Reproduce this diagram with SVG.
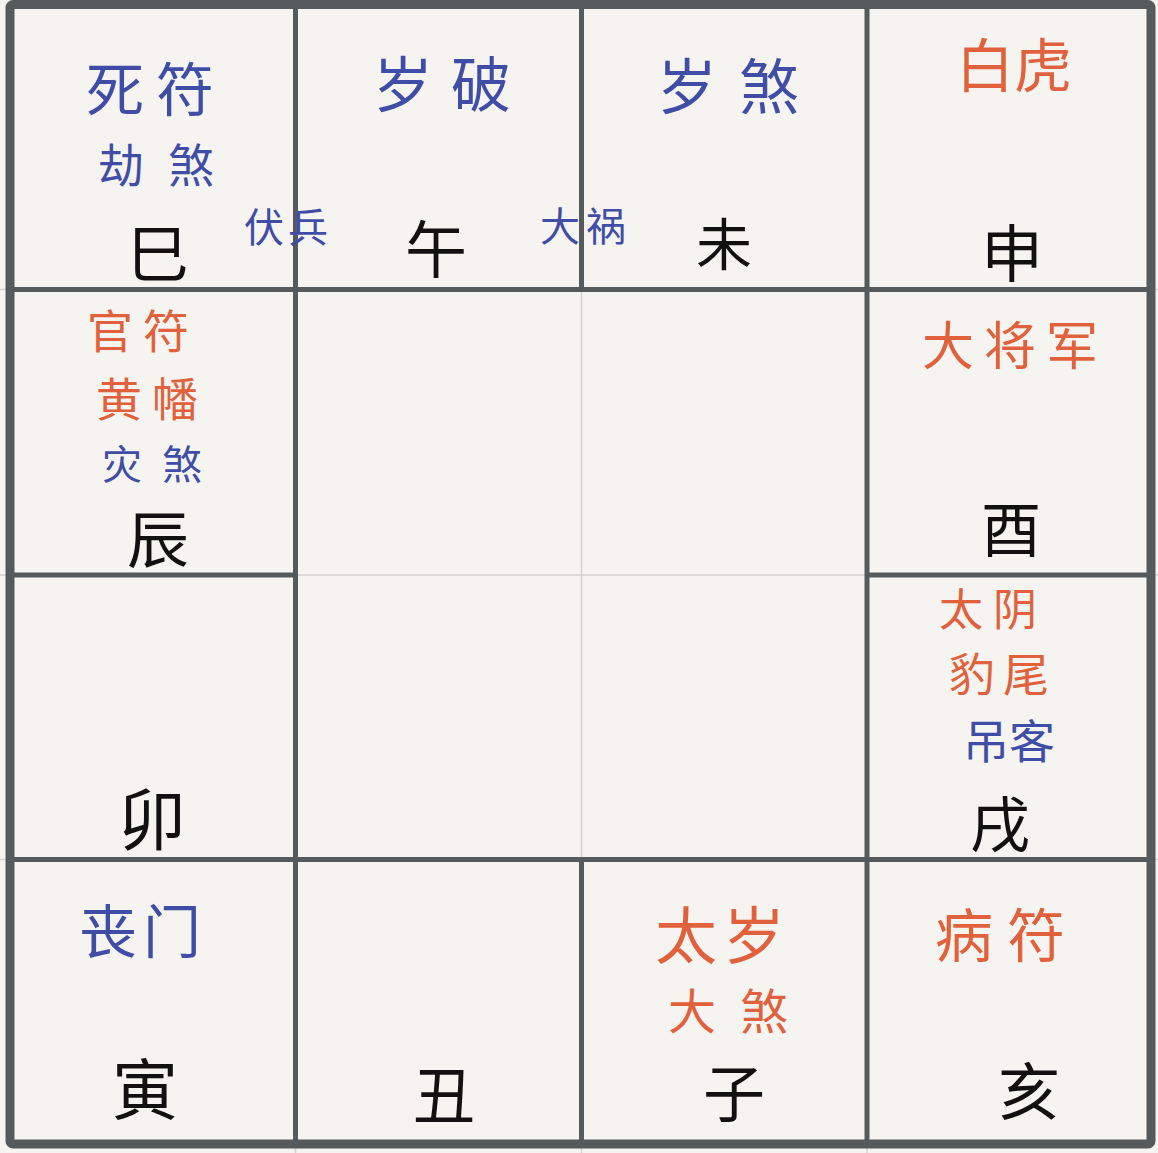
<svg xmlns="http://www.w3.org/2000/svg" width="1158" height="1153" viewBox="0 0 1158 1153">
  <style>
    text { font-family: "Noto Sans CJK SC", "Noto Sans", sans-serif; text-anchor: middle; dominant-baseline: central; }
    .b { fill: #3f4da6; }
    .o { fill: #e0613b; }
    .k { fill: #111111; }
    .light { stroke: #d2d2d0; stroke-width: 1.5; fill: none; }
    .dark { stroke: #555b5c; stroke-width: 5; fill: none; }
  </style>
  <rect x="0" y="0" width="1158" height="1153" fill="#f5f4f0"/>
  <g id="grid">
    <line class="light" x1="295.5" y1="0" x2="295.5" y2="1153"/>
    <line class="light" x1="581.5" y1="0" x2="581.5" y2="1153"/>
    <line class="light" x1="867" y1="0" x2="867" y2="1153"/>
    <line class="light" x1="0" y1="289.5" x2="1158" y2="289.5"/>
    <line class="light" x1="0" y1="575" x2="1158" y2="575"/>
    <line class="light" x1="0" y1="859.5" x2="1158" y2="859.5"/>
    <line class="dark" x1="295.5" y1="4" x2="295.5" y2="1144"/>
    <line class="dark" x1="867" y1="4" x2="867" y2="1144"/>
    <line class="dark" x1="581.5" y1="4" x2="581.5" y2="289.5"/>
    <line class="dark" x1="581.5" y1="859.5" x2="581.5" y2="1144"/>
    <line class="dark" x1="10" y1="289.5" x2="1151" y2="289.5"/>
    <line class="dark" x1="10" y1="859.5" x2="1151" y2="859.5"/>
    <line class="dark" x1="10" y1="575" x2="295.5" y2="575"/>
    <line class="dark" x1="867" y1="575" x2="1151" y2="575"/>
    <rect x="10" y="4.5" width="1141" height="1139.5" rx="3" fill="none" stroke="#555b5c" stroke-width="9"/>
  </g>
  <g id="cell-si">
    <text class="b" x="156" y="86" font-size="58" letter-spacing="12">死符</text>
    <text class="b" x="168" y="162" font-size="46" letter-spacing="24">劫煞</text>
    <text class="k" x="158" y="250" font-size="62">巳</text>
  </g>
  <g id="label-fubing">
    <text class="b" x="288" y="225" font-size="40" letter-spacing="4">伏兵</text>
  </g>
  <g id="cell-wu">
    <text class="b" x="451" y="80" font-size="60" letter-spacing="18">岁破</text>
    <text class="k" x="436" y="246" font-size="62">午</text>
  </g>
  <g id="label-dahuo">
    <text class="b" x="586" y="224" font-size="40" letter-spacing="6">大祸</text>
  </g>
  <g id="cell-wei">
    <text class="b" x="739" y="82" font-size="60" letter-spacing="22">岁煞</text>
    <text class="k" x="724" y="240" font-size="56">未</text>
  </g>
  <g id="cell-shen">
    <text class="o" x="1014" y="62" font-size="58">白虎</text>
    <text class="k" x="1012" y="250" font-size="62">申</text>
  </g>
  <g id="cell-chen">
    <text class="o" x="143" y="328" font-size="46" letter-spacing="10">官符</text>
    <text class="o" x="152" y="396" font-size="46" letter-spacing="10">黄幡</text>
    <text class="b" x="162" y="462" font-size="40" letter-spacing="20">灾煞</text>
    <text class="k" x="158" y="536" font-size="62">辰</text>
  </g>
  <g id="cell-you">
    <text class="o" x="1015" y="342" font-size="52" letter-spacing="10">大将军</text>
    <text class="k" x="1011" y="525" font-size="60">酉</text>
  </g>
  <g id="cell-mao">
    <text class="k" x="152" y="815" font-size="68">卯</text>
  </g>
  <g id="cell-xu">
    <text class="o" x="993" y="607" font-size="44" letter-spacing="10">太阴</text>
    <text class="o" x="1003" y="671" font-size="46" letter-spacing="8">豹尾</text>
    <text class="b" x="1009" y="738" font-size="46" letter-spacing="0">吊客</text>
    <text class="k" x="1000" y="820" font-size="60">戌</text>
  </g>
  <g id="cell-yin">
    <text class="b" x="143" y="928" font-size="58" letter-spacing="6">丧门</text>
    <text class="k" x="145" y="1085" font-size="66">寅</text>
  </g>
  <g id="cell-chou">
    <text class="k" x="444" y="1092" font-size="62">丑</text>
  </g>
  <g id="cell-zi">
    <text class="o" x="723" y="932" font-size="62" letter-spacing="6">太岁</text>
    <text class="o" x="740" y="1008" font-size="48" letter-spacing="24">大煞</text>
    <text class="k" x="734" y="1090" font-size="62">子</text>
  </g>
  <g id="cell-hai">
    <text class="o" x="1007" y="932" font-size="58" letter-spacing="14">病符</text>
    <text class="k" x="1029" y="1088" font-size="62">亥</text>
  </g>
</svg>
